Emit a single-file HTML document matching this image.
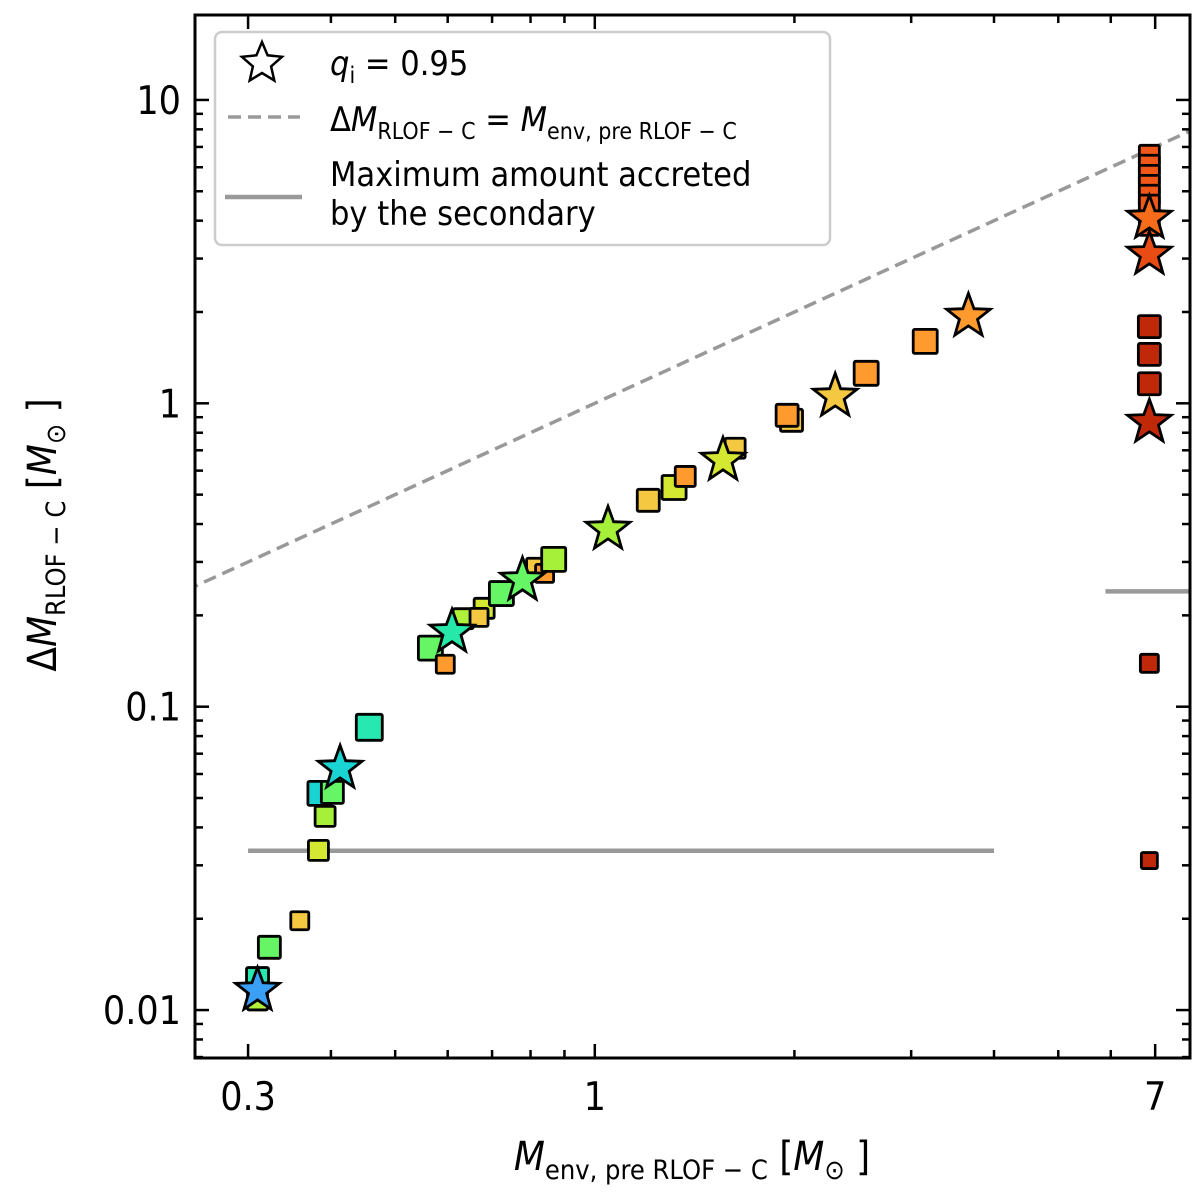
<!DOCTYPE html>
<html><head><meta charset="utf-8"><style>
html,body{margin:0;padding:0;background:#fff}
svg{display:block;font-family:"DejaVu Sans Condensed","DejaVu Sans","Liberation Sans Narrow","Liberation Sans",sans-serif;font-stretch:condensed}
</style></head><body>
<svg id="chart" width="1200" height="1193" viewBox="0 0 1200 1193"></svg>
<script>
// ---- data ----
const sqX=[0.31,0.31,0.323,0.359,0.383,0.392,0.385,0.402,0.457,0.565,0.595,0.633,0.681,0.669,0.723,0.817,0.840,0.867,1.204,1.317,1.369,1.628,1.98,1.95,2.566,3.15,6.86,6.86,6.86,6.86,6.86,6.86,6.86,6.86,6.86,6.86,6.86,6.86];
const sqY=[0.0108,0.0127,0.0161,0.0197,0.0336,0.0435,0.0518,0.0522,0.0855,0.156,0.138,0.195,0.211,0.197,0.236,0.286,0.275,0.306,0.479,0.528,0.574,0.711,0.879,0.913,1.256,1.60,6.57,6.09,5.64,5.23,4.85,4.50,1.79,1.45,1.16,0.139,0.0311,3.86];
const sqColor=["#b0f03a","#26e8b0","#66f564","#f5c842","#d4e832","#a6f03a","#1ad4d4","#66f564","#26e8b0","#66f564","#ff9a2e","#b0f03a","#d4e832","#f5c842","#66f564","#f5c842","#ff9a2e","#a6f03a","#f5c842","#d4e832","#ff9a2e","#f5c842","#f5c842","#ff9a2e","#ff9a2e","#ff9a2e","#f0581a","#f0581a","#f0581a","#f0581a","#f0581a","#f0581a","#c0280a","#c0280a","#c0280a","#c0280a","#c0280a","#f0581a"];
const sqSize=[20,22,22,18,20,20,24,22,26,24,18,20,20,18,24,20,18,24,22,24,20,20,22,22,24,24,20,20,20,20,20,20,22,22,22,18,16,20];
const stX=[0.31,0.413,0.609,0.778,1.047,1.561,2.304,3.66,6.86,6.86,6.86];
const stY=[0.0116,0.0626,0.176,0.261,0.384,0.649,1.054,1.934,4.07,3.10,0.866];
const stColor=["#3aa0f5","#1ad4d4","#26e8a8","#66f564","#a6f03a","#d4e832","#f5c842","#ff9a2e","#f76c1a","#e84c14","#c0280a"];
const xTickVals=[0.3,1,7];
const xTickLabels=["0.3","1","7"];
const yTickVals=[0.01,0.1,1,10];
const yTickLabels=["0.01","0.1","1","10"];
const limitLowY=0.0335, limitLowX0=0.3, limitLowX1=4.0;
const limitHighY=0.240, limitHighX0=5.89;

// ---- axes ----
const L=195,R=1190,T=15,B=1058;
const xmin=Math.log10(0.2495), xmax=Math.log10(7.9);
const ymin=-2.158, ymax=1.28;
const X=v=>L+(Math.log10(v)-xmin)/(xmax-xmin)*(R-L);
const Y=v=>B-(Math.log10(v)-ymin)/(ymax-ymin)*(B-T);
const NS="http://www.w3.org/2000/svg";
const svg=document.getElementById('chart');
function mk(tag,attrs,parent){const e=document.createElementNS(NS,tag);for(const k in attrs)e.setAttribute(k,attrs[k]);(parent||svg).appendChild(e);return e;}

const clip=mk('clipPath',{id:'pc'});mk('rect',{x:L,y:T,width:R-L,height:B-T},clip);
const plot=mk('g',{'clip-path':'url(#pc)'});



const dl=mk('line',{x1:X(0.2),y1:Y(0.2),x2:X(10),y2:Y(10),stroke:'#999','stroke-width':3.5,'stroke-dasharray':'13,7'},plot);


const g1=mk('line',{x1:X(limitLowX0),y1:Y(limitLowY),x2:X(limitLowX1),y2:Y(limitLowY),stroke:'#999','stroke-width':4.5},plot);


const g2=mk('line',{x1:X(limitHighX0),y1:Y(limitHighY),x2:R,y2:Y(limitHighY),stroke:'#999','stroke-width':4.5},plot);



for(let i=0;i<sqX.length;i++){
  const s=sqSize[i];
  const r=mk('rect',{x:X(sqX[i])-s/2,y:Y(sqY[i])-s/2,width:s,height:s,fill:sqColor[i],stroke:'#000','stroke-width':2.8,rx:1.5},plot);
  
  
}
function starPath(cx,cy,ro,ri){let d='';for(let k=0;k<10;k++){const a=-Math.PI/2+k*Math.PI/5;const r=k%2?ri:ro;d+=(k?'L':'M')+(cx+r*Math.cos(a)).toFixed(1)+','+(cy+r*Math.sin(a)).toFixed(1);}return d+'Z';}
for(let i=0;i<stX.length;i++){
  const p=mk('path',{d:starPath(X(stX[i]),Y(stY[i]),23,9.5),fill:stColor[i],stroke:'#000','stroke-width':2.8,'stroke-linejoin':'miter'},plot);
  
  
}

const fr=mk('rect',{x:L,y:T,width:R-L,height:B-T,fill:'none',stroke:'#000','stroke-width':3});



const tg=mk('g',{stroke:'#000','stroke-width':2.5});


const xMinors=[0.4,0.5,0.6,0.7,0.8,0.9,2,3,4,5,6];
xMinors.forEach(v=>{const x=X(v);mk('line',{x1:x,y1:B,x2:x,y2:B-8},tg);mk('line',{x1:x,y1:T,x2:x,y2:T+8},tg);});
xTickVals.forEach((v,i)=>{const x=X(v);mk('line',{x1:x,y1:B,x2:x,y2:B-14},tg);mk('line',{x1:x,y1:T,x2:x,y2:T+14},tg);
  const t=mk('text',{x:x,y:B+52,'font-size':39,'text-anchor':'middle',fill:'#000',stroke:'none'});t.textContent=xTickLabels[i];
  
  });
for(let d=-3;d<=1;d++){for(let m=2;m<=9;m++){const v=m*Math.pow(10,d);if(v<0.007||v>19)continue;const y=Y(v);
  mk('line',{x1:L,y1:y,x2:L+8,y2:y},tg);mk('line',{x1:R,y1:y,x2:R-8,y2:y},tg);}}
yTickVals.forEach((v,i)=>{const y=Y(v);mk('line',{x1:L,y1:y,x2:L+14,y2:y},tg);mk('line',{x1:R,y1:y,x2:R-14,y2:y},tg);
  const t=mk('text',{x:L-14,y:y+14,'font-size':39,'text-anchor':'end',fill:'#000',stroke:'none'});t.textContent=yTickLabels[i];
  
  });
</script>
<svg width="1200" height="1193" style="position:absolute;left:0;top:0">
  <g>
    <g>
      <rect x="215" y="32" width="615" height="213" rx="7" fill="#fff" fill-opacity="0.85" stroke="#ccc" stroke-width="2.5"/>
      <path d="M262,42 L267.6,55.3 L282,56.8 L271.1,66.4 L274.3,80.5 L262,73 L249.7,80.5 L252.9,66.4 L241.9,56.8 L256.4,55.3Z" fill="none" stroke="#000" stroke-width="2.5"/>
      <text x="330" y="75" font-size="34"><tspan font-style="italic">q</tspan><tspan font-size="23" dy="8">i</tspan><tspan dy="-8"> = 0.95</tspan></text>
      <line x1="228" y1="117" x2="300" y2="117" stroke="#999" stroke-width="3.5" stroke-dasharray="13,7"/>
      <text x="330" y="131" font-size="34">Δ<tspan font-style="italic">M</tspan><tspan font-size="23" dy="8">RLOF − C</tspan><tspan dy="-8"> = </tspan><tspan font-style="italic">M</tspan><tspan font-size="23" dy="8">env, pre RLOF − C</tspan></text>
      <line x1="225" y1="197" x2="302" y2="197" stroke="#999" stroke-width="4.5"/>
      <text x="330" y="186" font-size="34">Maximum amount accreted</text>
      <text x="330" y="225" font-size="34">by the secondary</text>
    </g>
    <text x="692" y="1170" font-size="40" text-anchor="middle"><tspan font-style="italic">M</tspan><tspan font-size="27" dy="9">env, pre RLOF − C</tspan><tspan dy="-9"> [</tspan><tspan font-style="italic">M</tspan><tspan font-size="27" dy="9">⊙</tspan><tspan dy="-9"> ]</tspan></text>
    <text transform="translate(56,535) rotate(-90)" font-size="40" text-anchor="middle">Δ<tspan font-style="italic">M</tspan><tspan font-size="27" dy="9">RLOF − C</tspan><tspan dy="-9"> [</tspan><tspan font-style="italic">M</tspan><tspan font-size="27" dy="9">⊙</tspan><tspan dy="-9"> ]</tspan></text>
  </g>
</svg>
</body></html>
